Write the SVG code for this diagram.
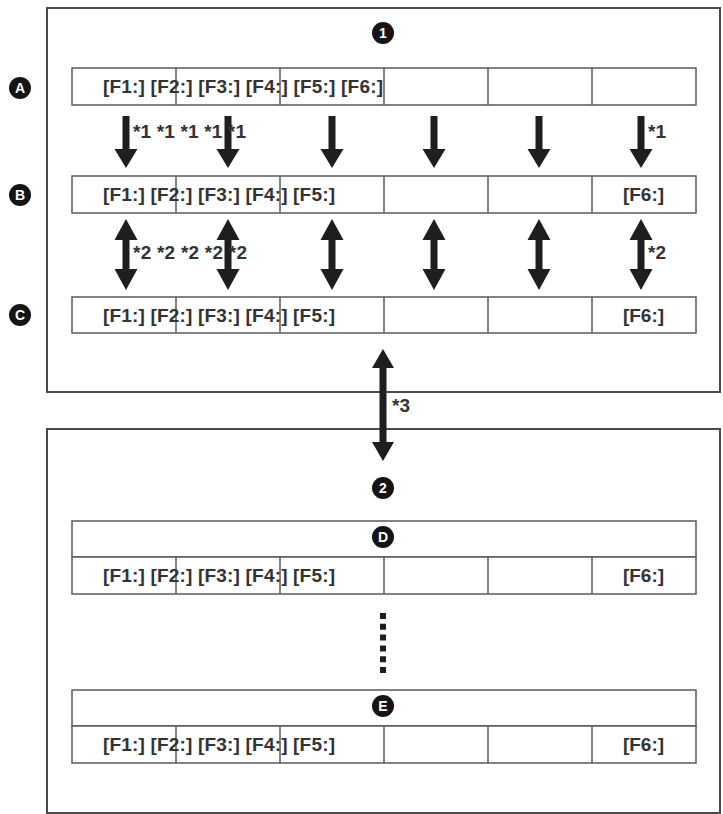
<svg xmlns="http://www.w3.org/2000/svg" width="723" height="814" viewBox="0 0 723 814">
<style>
.frame{fill:#fff;stroke:#4a4a4a;stroke-width:2}
.row{fill:#fff;stroke:#5a5a5a;stroke-width:1.5}
.div{stroke:#5a5a5a;stroke-width:1.5}
.t{font-family:"Liberation Sans",Arial,sans-serif;font-weight:bold;font-size:19px;fill:#333}
.badge{fill:#151515}
.bt{font-family:"Liberation Sans",Arial,sans-serif;font-weight:bold;font-size:14px;fill:#fff;text-anchor:middle}
.arr{fill:#1e1e1e}
</style>
<defs>
<path id="down" d="M-3.5,0 H3.5 V33 H11.5 L0,52 L-11.5,33 H-3.5 Z"/>
<path id="dbl" d="M0,0 L11.5,21 H3.5 V50 H11.5 L0,71 L-11.5,50 H-3.5 V21 H-11.5 Z"/>
</defs>
<rect width="723" height="814" fill="#fff"/>

<g id="panel1">
<rect class="frame" x="47" y="8" width="673" height="384"/>
<circle class="badge" cx="383" cy="33" r="11"/><text class="bt" x="383" y="38">1</text>
</g>

<g id="panel2">
<rect class="frame" x="47" y="429" width="673" height="384"/>
<circle class="badge" cx="383" cy="488" r="11"/><text class="bt" x="383" y="493">2</text>
</g>

<g id="rowA">
<circle class="badge" cx="20" cy="88" r="11"/><text class="bt" x="20" y="93">A</text>
<rect class="row" x="72" y="68" width="624" height="37"/>
<path class="div" d="M176,68V105M280,68V105M384,68V105M488,68V105M592,68V105"/>
<text class="t" x="103" y="93" textLength="280">[F1:] [F2:] [F3:] [F4:] [F5:] [F6:]</text>
</g>

<g id="rowB">
<circle class="badge" cx="20" cy="195" r="11"/><text class="bt" x="20" y="200">B</text>
<rect class="row" x="72" y="176" width="624" height="37"/>
<path class="div" d="M176,176V213M280,176V213M384,176V213M488,176V213M592,176V213"/>
<text class="t" x="103" y="201" textLength="232">[F1:] [F2:] [F3:] [F4:] [F5:]</text>
<text class="t" x="623" y="201" textLength="41">[F6:]</text>
</g>

<g id="rowC">
<circle class="badge" cx="20" cy="315" r="11"/><text class="bt" x="20" y="320">C</text>
<rect class="row" x="72" y="297" width="624" height="36"/>
<path class="div" d="M176,297V333M280,297V333M384,297V333M488,297V333M592,297V333"/>
<text class="t" x="103" y="322" textLength="232">[F1:] [F2:] [F3:] [F4:] [F5:]</text>
<text class="t" x="623" y="322" textLength="41">[F6:]</text>
</g>

<g id="rowD">
<rect class="row" x="72" y="521" width="624" height="36"/>
<circle class="badge" cx="383" cy="537" r="11"/><text class="bt" x="383" y="542">D</text>
<rect class="row" x="72" y="557" width="624" height="37"/>
<path class="div" d="M176,557V594M280,557V594M384,557V594M488,557V594M592,557V594"/>
<text class="t" x="103" y="582" textLength="232">[F1:] [F2:] [F3:] [F4:] [F5:]</text>
<text class="t" x="623" y="582" textLength="41">[F6:]</text>
</g>

<g id="rowE">
<rect class="row" x="72" y="690" width="624" height="36"/>
<circle class="badge" cx="383" cy="706" r="11"/><text class="bt" x="383" y="711">E</text>
<rect class="row" x="72" y="726" width="624" height="37"/>
<path class="div" d="M176,726V763M280,726V763M384,726V763M488,726V763M592,726V763"/>
<text class="t" x="103" y="751" textLength="232">[F1:] [F2:] [F3:] [F4:] [F5:]</text>
<text class="t" x="623" y="751" textLength="41">[F6:]</text>
</g>

<g id="connectors">
<g class="arr">
<use href="#down" x="126" y="116"/>
<use href="#down" x="228" y="116"/>
<use href="#down" x="332" y="116"/>
<use href="#down" x="434" y="116"/>
<use href="#down" x="539" y="116"/>
<use href="#down" x="641" y="116"/>
<use href="#dbl" x="126" y="219"/>
<use href="#dbl" x="228" y="219"/>
<use href="#dbl" x="332" y="219"/>
<use href="#dbl" x="434" y="219"/>
<use href="#dbl" x="539" y="219"/>
<use href="#dbl" x="641" y="219"/>
<path d="M383,349 L394,368 H386.5 V442 H394 L383,461 L372,442 H379.5 V368 H372 Z"/>
</g>
<line x1="383" y1="613" x2="383" y2="673" stroke="#1e1e1e" stroke-width="6" stroke-dasharray="6 4.8"/>
<text class="t" x="133" y="138" textLength="113">*1 *1 *1 *1 *1</text>
<text class="t" x="648" y="138">*1</text>
<text class="t" x="133" y="259" textLength="114">*2 *2 *2 *2 *2</text>
<text class="t" x="648" y="259">*2</text>
<text class="t" x="392" y="412">*3</text>
</g>
</svg>
